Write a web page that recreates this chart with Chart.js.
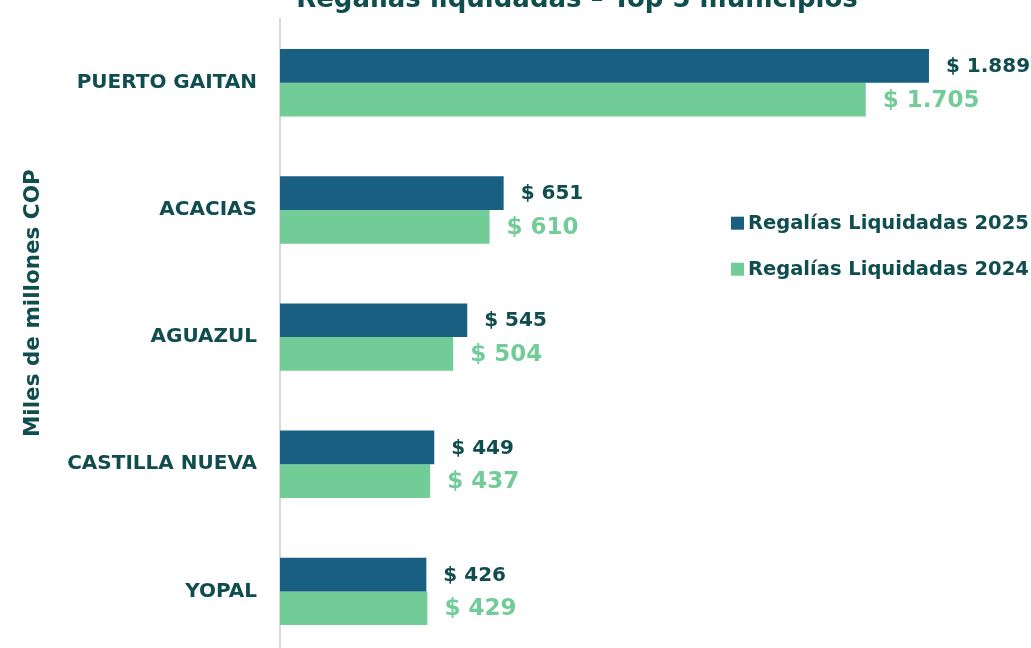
<!DOCTYPE html>
<html lang="es">
<head>
<meta charset="utf-8">
<title>Regalías liquidadas – Top 5 municipios</title>
<script src="https://cdn.jsdelivr.net/npm/chart.js@4.4.1/dist/chart.umd.min.js"></script>
<style>
  html, body { margin: 0; padding: 0; background: #fff; overflow: hidden; width: 1031px; height: 648px; }
  #chart-regalias { position: absolute; left: 0; top: -40px; }
</style>
</head>
<body>
<canvas id="chart-regalias" width="1154" height="730"></canvas>
<script>
// Datos en miles de millones COP
const municipios = ["PUERTO GAITAN", "ACACIAS", "AGUAZUL", "CASTILLA NUEVA", "YOPAL"];
const regalias2025 = [1889, 651, 545, 449, 426];
const regalias2024 = [1705, 610, 504, 437, 429];
const series = ["Regalías Liquidadas 2025", "Regalías Liquidadas 2024"];
const tituloEje = "Miles de millones COP";

const AZUL = "#185f81";
const VERDE = "#72cc98";
const TEXTO = "#104d4f";
const FUENTE = "'DejaVu Sans', sans-serif";

// $ 1.889
function formatoPesos(v) {
    return "$ " + String(v).replace(/\B(?=(\d{3})+(?!\d))/g, ".");
}

// Etiqueta de valor al final de cada barra
const etiquetasValor = {
    id: "etiquetasValor",
    afterDatasetsDraw(chart) {
        const ctx = chart.ctx;
        ctx.save();
        ctx.textAlign = "left";
        ctx.textBaseline = "middle";
        chart.data.datasets.forEach((ds, i) => {
            const meta = chart.getDatasetMeta(i);
            ctx.font = `bold ${ds.labelSize}px ${FUENTE}`;
            ctx.fillStyle = ds.labelColor;
            meta.data.forEach((bar, j) => {
                ctx.fillText(formatoPesos(ds.data[j]), bar.x + 17, bar.y + 1);
            });
        });
        ctx.restore();
    }
};

// Leyenda dentro del area del grafico y titulo del eje vertical
const leyenda = {
    id: "leyenda",
    afterDraw(chart) {
        const ctx = chart.ctx;
        const area = chart.chartArea;
        const x = 731;
        const y0 = area.top + 204;
        const paso = 46;
        ctx.save();
        ctx.font = `bold 19.5px ${FUENTE}`;
        ctx.textAlign = "left";
        ctx.textBaseline = "middle";
        chart.data.datasets.forEach((ds, i) => {
            const y = y0 + i * paso;
            ctx.fillStyle = ds.backgroundColor;
            ctx.fillRect(x, y - 6.5, 13, 13);
            ctx.fillStyle = TEXTO;
            ctx.fillText(ds.label, x + 17, y + 1);
        });

        ctx.translate(33, area.top + 284);
        ctx.rotate(-Math.PI / 2);
        ctx.textAlign = "center";
        ctx.font = `bold 21.5px ${FUENTE}`;
        ctx.fillText(tituloEje, 0, 0);
        ctx.restore();
    }
};

const ctx = document.getElementById("chart-regalias").getContext("2d");

const chartRegalias = new Chart(ctx, {
    type: "bar",
    data: {
        labels: municipios,
        datasets: [
            { label: series[0], data: regalias2025, backgroundColor: AZUL, labelColor: TEXTO, labelSize: 20 },
            { label: series[1], data: regalias2024, backgroundColor: VERDE, labelColor: VERDE, labelSize: 23 }
        ]
    },
    options: {
        indexAxis: "y",
        responsive: false,
        animation: false,
        datasets: {
            bar: { categoryPercentage: 0.53, barPercentage: 1 }
        },
        layout: { padding: { right: 0, bottom: 5 } },
        plugins: {
            legend: { display: false },
            tooltip: { enabled: false },
            title: {
                display: true,
                text: "Regalías liquidadas – Top 5 municipios",
                color: TEXTO,
                font: { family: FUENTE, size: 26, weight: "bold" },
                padding: { top: 25, bottom: 3 }
            }
        },
        scales: {
            x: { display: false, min: 0, max: 2544 },
            y: {
                grid: { display: false, drawTicks: false },
                border: { display: true, color: "#d9d9d9", width: 2 },
                ticks: {
                    color: TEXTO,
                    font: { family: FUENTE, size: 20, weight: "bold" },
                    padding: 23
                },
                afterFit(scale) {
                    scale.width = 280;
                }
            }
        }
    },
    plugins: [etiquetasValor, leyenda]
});
</script>
</body>
</html>
